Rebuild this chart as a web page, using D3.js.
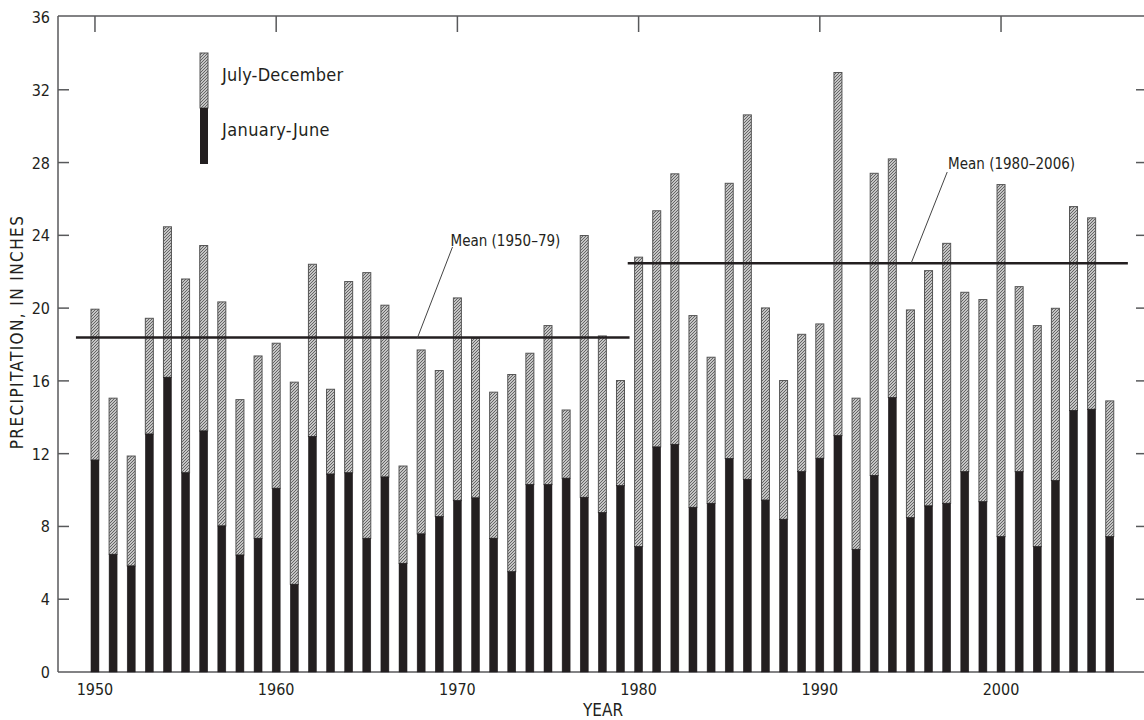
<!DOCTYPE html>
<html><head><meta charset="utf-8">
<script src="https://cdn.jsdelivr.net/npm/d3@7"></script>
<style>
body{margin:0;background:#fff;}
svg{display:block;}
text{font-family:"DejaVu Sans Condensed","Liberation Sans Narrow","Arial Narrow",sans-serif;fill:#231f20;}
</style></head><body>
<svg id="c" width="1144" height="720"></svg>
<script>
const years = d3.range(1950, 2007);
const janJune = [11.65,6.47,5.83,13.08,16.2,10.95,13.25,8.03,6.43,7.35,
  10.1,4.82,12.94,10.88,10.95,7.35,10.72,5.97,7.59,8.54,
  9.42,9.57,7.35,5.51,10.3,10.3,10.65,9.6,8.76,10.24,
  6.89,12.37,12.51,9.05,9.27,11.73,10.59,9.45,8.39,11.01,
  11.75,12.99,6.74,10.8,15.08,8.48,9.13,9.27,11.01,9.36,
  7.44,11.01,6.89,10.52,14.37,14.44,7.44];
const annualTotal = [19.94,15.05,11.87,19.44,24.47,21.6,23.44,20.34,14.97,17.37,
  18.07,15.93,22.41,15.54,21.46,21.95,20.16,11.32,17.7,16.57,
  20.56,18.34,15.38,16.35,17.52,19.04,14.4,23.99,18.47,16.02,
  22.8,25.35,27.38,19.59,17.3,26.86,30.62,20.01,16.02,18.56,
  19.13,32.95,15.05,27.41,28.2,19.9,22.06,23.56,20.87,20.47,
  26.79,21.18,19.04,19.99,25.58,24.96,14.9];
const yTicks = [0,4,8,12,16,20,24,28,32,36];
const xTicks = [1950,1960,1970,1980,1990,2000];
const means = [
  {label:"Mean (1950–79)", value:18.38, from:1948.95, to:1979.5, tx:1969.62, ty:23.42, ax:1969.73, ay:23.36, bx:1967.8},
  {label:"Mean (1980–2006)", value:22.47, from:1979.4, to:2007.0, tx:1997.08, ty:27.65, ax:1997.03, ay:27.48, bx:1995.04}
];
const seriesNames = ["July-December","January-June"];

const svg = d3.select("#c");
const L=58, R=1146, T=17, B=672;
const x = d3.scaleLinear().domain([1947.96, 2008]).range([L, R]);
const y = d3.scaleLinear().domain([0, 36]).range([B, T]);
const bw = 8;

const defs = svg.append("defs");
const pat = defs.append("pattern").attr("id","hatch").attr("patternUnits","userSpaceOnUse")
  .attr("width",3).attr("height",3);
pat.append("rect").attr("width",3).attr("height",3).attr("fill","#eeeeee");
pat.append("path").attr("d","M-1,1 l2,-2 M0,3 l3,-3 M2,4 l2,-2").attr("stroke","#5e5e5e").attr("stroke-width",1.1);

const axCol = "#58595b";
svg.append("line").attr("x1",L).attr("x2",R).attr("y1",T-1).attr("y2",T-1).attr("stroke",axCol).attr("stroke-width",1.5);
svg.append("line").attr("x1",L).attr("x2",R).attr("y1",B).attr("y2",B).attr("stroke",axCol).attr("stroke-width",1.5);
svg.append("line").attr("x1",L).attr("x2",L).attr("y1",T-1).attr("y2",B).attr("stroke",axCol).attr("stroke-width",1.5);
svg.append("line").attr("x1",R).attr("x2",R).attr("y1",T-1).attr("y2",B).attr("stroke",axCol).attr("stroke-width",1.5);

const inner = yTicks.filter(d=>d>0&&d<36);
svg.selectAll(".yt").data(inner).enter().append("line")
  .attr("x1",L).attr("x2",L+11).attr("y1",d=>y(d)).attr("y2",d=>y(d)).attr("stroke",axCol).attr("stroke-width",1.5);
svg.selectAll(".yt2").data(inner).enter().append("line")
  .attr("x1",R).attr("x2",R-10).attr("y1",d=>y(d)).attr("y2",d=>y(d)).attr("stroke",axCol).attr("stroke-width",1.5);
svg.selectAll(".yl").data(yTicks).enter().append("text")
  .attr("x",L-8).attr("y",d=>y(d)+6).attr("text-anchor","end").attr("font-size",16).text(d=>d);
svg.selectAll(".xt").data(xTicks).enter().append("line")
  .attr("x1",d=>x(d)).attr("x2",d=>x(d)).attr("y1",T-1).attr("y2",T+15).attr("stroke",axCol).attr("stroke-width",1.5);
svg.selectAll(".xt2").data(xTicks).enter().append("line")
  .attr("x1",d=>x(d)).attr("x2",d=>x(d)).attr("y1",B).attr("y2",B-10).attr("stroke",axCol).attr("stroke-width",1.5);
svg.selectAll(".xl").data(xTicks).enter().append("text")
  .attr("x",d=>x(d)).attr("y",B+23).attr("text-anchor","middle").attr("font-size",16).text(d=>d);

const data = years.map((yr,i)=>({yr, jj:janJune[i], tot:annualTotal[i]}));
const g = svg.append("g");
g.selectAll(".top").data(data).enter().append("rect")
  .attr("x",d=>x(d.yr)-bw/2).attr("width",bw)
  .attr("y",d=>y(d.tot)).attr("height",d=>y(d.jj)-y(d.tot))
  .attr("fill","url(#hatch)").attr("stroke","#555").attr("stroke-width",1);
g.selectAll(".bot").data(data).enter().append("rect")
  .attr("x",d=>x(d.yr)-bw/2).attr("width",bw)
  .attr("y",d=>y(d.jj)).attr("height",d=>B-y(d.jj))
  .attr("fill","#231f20").attr("stroke","#231f20").attr("stroke-width",0.5);

means.forEach(m=>{
  svg.append("line").attr("x1",x(m.from)).attr("x2",x(m.to)).attr("y1",y(m.value)).attr("y2",y(m.value))
    .attr("stroke","#231f20").attr("stroke-width",2.5);
  svg.append("line").attr("x1",x(m.ax)).attr("y1",y(m.ay)).attr("x2",x(m.bx)).attr("y2",y(m.value))
    .attr("stroke","#444").attr("stroke-width",1);
  svg.append("text").attr("x",x(m.tx)).attr("y",y(m.ty)).attr("font-size",15).text(m.label);
});

const lg = svg.append("g");
lg.append("rect").attr("x",200).attr("y",53).attr("width",bw).attr("height",55).attr("fill","url(#hatch)").attr("stroke","#555");
lg.append("rect").attr("x",200).attr("y",108).attr("width",bw).attr("height",56).attr("fill","#231f20");
lg.append("text").attr("x",222).attr("y",81).attr("font-size",18).attr("letter-spacing",0.2).text(seriesNames[0]);
lg.append("text").attr("x",222).attr("y",136).attr("font-size",18).attr("letter-spacing",0.4).text(seriesNames[1]);

svg.append("text").attr("transform","translate(23,332) rotate(-90)").attr("text-anchor","middle")
  .attr("font-size",17).attr("letter-spacing",1.4).text("PRECIPITATION, IN INCHES");
svg.append("text").attr("x",603).attr("y",716).attr("text-anchor","middle").attr("font-size",17).text("YEAR");
</script></body></html>
